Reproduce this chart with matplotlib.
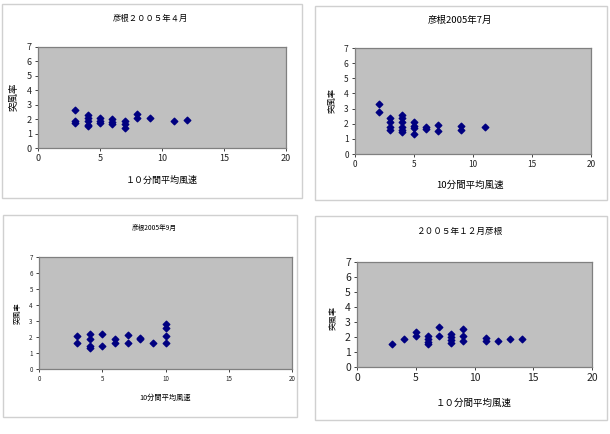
import matplotlib
matplotlib.use('Agg')
import matplotlib.pyplot as plt
from matplotlib.patches import Rectangle

plt.rcParams['font.family'] = ['Noto Sans CJK JP', 'DejaVu Sans']

W, H = 610, 434

# data (wind speed, gust factor)
apr_x = [3, 3, 3, 4, 4, 4, 4, 4, 5, 5, 5, 6, 6, 6, 7, 7, 7, 8, 8, 9, 11, 12]
apr_y = [2.6, 1.9, 1.75, 2.3, 2.1, 1.85, 1.6, 1.5, 2.1, 1.9, 1.7, 2.0, 1.8, 1.65,
         1.9, 1.65, 1.4, 2.35, 2.05, 2.1, 1.9, 1.95]

jul_x = [2, 2, 3, 3, 3, 3, 4, 4, 4, 4, 4, 4, 5, 5, 5, 5, 6, 6, 7, 7, 9, 9, 11]
jul_y = [3.3, 2.75, 2.35, 2.1, 1.8, 1.6, 2.6, 2.35, 2.1, 1.8, 1.6, 1.45,
         2.1, 1.85, 1.7, 1.35, 1.8, 1.65, 1.9, 1.55, 1.85, 1.6, 1.8]

sep_x = [3, 3, 4, 4, 4, 4, 5, 5, 6, 6, 7, 7, 8, 8, 9, 10, 10, 10, 10]
sep_y = [2.05, 1.65, 2.2, 1.9, 1.45, 1.3, 2.2, 1.45, 1.85, 1.6, 2.15, 1.65,
         1.95, 1.85, 1.6, 2.8, 2.55, 2.05, 1.6]

dec_x = [3, 4, 5, 5, 6, 6, 6, 6, 7, 7, 8, 8, 8, 8, 9, 9, 9, 11, 11, 12, 13, 14]
dec_y = [1.55, 1.85, 2.35, 2.1, 2.1, 1.9, 1.65, 1.55, 2.65, 2.05, 2.2, 2.0,
         1.8, 1.6, 2.55, 2.1, 1.75, 1.95, 1.75, 1.75, 1.85, 1.9]

titles = ['彦根２００５年４月', '彦根2005年7月', '彦根2005年9月', '２００５年１２月彦根']
xlabels = ['１０分間平均風速', '10分間平均風速', '10分間平均風速', '１０分間平均風速']
ylabel = '突風率'

fig = plt.figure(figsize=(W / 100, H / 100), dpi=100)


def px_rect(l, t, r, b):
    return [l / W, 1 - b / H, (r - l) / W, (b - t) / H]


def panel(box, area, x, y, title, xlabel, tpos, xlpos, ylpos, fs, ms):
    fs_title, fs_tick, fs_xl, fs_yl = fs
    bl, bt, br, bb = box
    fig.patches.append(Rectangle((bl / W, 1 - bb / H), (br - bl) / W, (bb - bt) / H,
                                 transform=fig.transFigure, fill=False,
                                 edgecolor='#d0d0d0', linewidth=1.0))
    ax = fig.add_axes(px_rect(*area))
    ax.set_facecolor('#c0c0c0')
    ax.scatter(x, y, marker='D', s=ms, color='#000080', edgecolors='#000080', zorder=3)
    ax.set_xlim(0, 20)
    ax.set_ylim(0, 7)
    ax.set_xticks([0, 5, 10, 15, 20])
    ax.set_yticks(range(8))
    ax.tick_params(labelsize=fs_tick, length=2.5, width=0.6, colors='#222222', pad=2)
    for s in ax.spines.values():
        s.set_color('#808080')
        s.set_linewidth(0.9)
    fig.text(tpos[0] / W, 1 - tpos[1] / H, title, ha='center', va='center', fontsize=fs_title)
    fig.text(xlpos[0] / W, 1 - xlpos[1] / H, xlabel, ha='center', va='center', fontsize=fs_xl)
    fig.text(ylpos[0] / W, 1 - ylpos[1] / H, ylabel, ha='center', va='center',
             fontsize=fs_yl, rotation=90)
    return ax


panel((2, 4, 302, 198), (38, 47, 286, 148), apr_x, apr_y, titles[0], xlabels[0],
      (150, 18), (162, 180), (14, 97), (6, 6.5, 6.5, 6.8), 11)
panel((315, 6, 607, 200), (355, 48, 591, 154), jul_x, jul_y, titles[1], xlabels[1],
      (460, 20), (470, 185), (332, 100), (6.8, 6, 6.8, 6), 11)
panel((3, 215, 297, 417), (39, 257, 292, 369), sep_x, sep_y, titles[2], xlabels[2],
      (154, 228), (165, 398), (18, 313), (4.8, 4.5, 5.2, 5.2), 11)
panel((315, 216, 607, 420), (357, 262, 592, 367), dec_x, dec_y, titles[3], xlabels[3],
      (460, 231), (474, 403), (333, 318), (6.2, 7.5, 6.8, 5.8), 11)

fig.savefig('out.png', dpi=100)
